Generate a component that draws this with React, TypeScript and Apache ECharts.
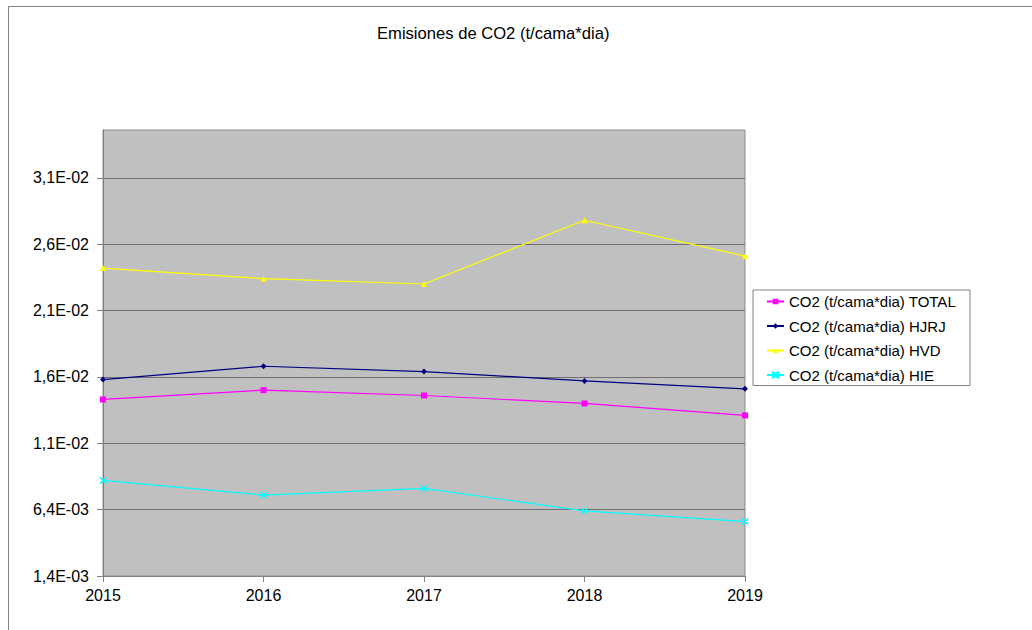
import React, { useEffect, useRef } from "react";
import * as echarts from "echarts";

const years = ["2015", "2016", "2017", "2018", "2019"];
const total = [0.0147, 0.0154, 0.015, 0.0144, 0.0135];
const hjrj = [0.0162, 0.0172, 0.0168, 0.0161, 0.0155];
const hvd = [0.0246, 0.0238, 0.0234, 0.0282, 0.0255];
const hie = [0.0086, 0.0075, 0.008, 0.0063, 0.0055];
const yTicks = [0.0014, 0.0064, 0.0114, 0.0164, 0.0214, 0.0264, 0.0314];
const seriesNames = [
  "CO2 (t/cama*dia) TOTAL",
  "CO2 (t/cama*dia) HJRJ",
  "CO2 (t/cama*dia) HVD",
  "CO2 (t/cama*dia) HIE",
];

const FONT = "'Liberation Sans', Arial, sans-serif";
const X_SYMBOL = "path://M0,0 L10,10 M10,0 L0,10 M0,0 L0.6,0 L10,9.4 L10,10 L9.4,10 L0,0.6 Z M10,0 L10,0.6 L0.6,10 L0,10 L0,9.4 L9.4,0 Z";

function fmt(v: number): string {
  const [m, e] = v.toExponential(1).split("e");
  const ex = parseInt(e, 10);
  return m.replace(".", ",") + "E" + (ex < 0 ? "-" : "+") + String(Math.abs(ex)).padStart(2, "0");
}

export default function App() {
  const ref = useRef<HTMLDivElement>(null);
  useEffect(() => {
    if (!ref.current) return;
    const chart = echarts.init(ref.current, null, { renderer: "svg" });
    const mk = (name: string, data: number[], color: string, symbol: string, size: number) => ({
      name,
      type: "line",
      data,
      color,
      symbol,
      symbolSize: size,
      showSymbol: true,
      lineStyle: { width: 1.2, color },
      itemStyle: { color, borderColor: color, borderWidth: symbol === X_SYMBOL ? 1 : 0 },
    });
    chart.setOption({
      animation: false,
      backgroundColor: "#ffffff",
      textStyle: { fontFamily: FONT },
      title: {
        text: "Emisiones de CO2 (t/cama*dia)",
        left: 377,
        top: 25,
        padding: 0,
        textStyle: { fontFamily: FONT, fontSize: 16.6, fontWeight: "normal", color: "#000" },
      },
      graphic: [
        {
          type: "rect",
          shape: { x: 8.5, y: 6.5, width: 1100, height: 700 },
          style: { fill: "none", stroke: "#808080", lineWidth: 1 },
          silent: true,
          z: -10,
        },
      ],
      legend: {
        orient: "vertical",
        left: 753,
        top: 290,
        padding: [4, 14, 3, 13],
        itemWidth: 17,
        itemHeight: 7,
        itemGap: 9.5,
        borderColor: "#808080",
        borderWidth: 1,
        backgroundColor: "#ffffff",
        textStyle: { fontFamily: FONT, fontSize: 15, color: "#000" },
        data: seriesNames,
      },
      grid: {
        left: 103,
        top: 130,
        right: 287,
        bottom: 54,
        show: true,
        backgroundColor: "#c0c0c0",
        borderColor: "#8c8c8c",
        borderWidth: 1,
        containLabel: false,
      },
      xAxis: {
        type: "category",
        data: years,
        boundaryGap: false,
        axisLine: { lineStyle: { color: "#808080", width: 1 } },
        axisTick: { show: true, length: 6, inside: false, lineStyle: { color: "#808080" } },
        axisLabel: { fontFamily: FONT, fontSize: 16, color: "#000", margin: 11 },
        splitLine: { show: false },
      },
      yAxis: {
        type: "value",
        min: 0.0014,
        max: 0.035,
        axisLine: { show: true, lineStyle: { color: "#808080", width: 1 } },
        axisTick: { show: true, length: 6, inside: false, customValues: yTicks, lineStyle: { color: "#808080" } },
        axisLabel: { fontFamily: FONT, fontSize: 16, color: "#000", margin: 14, customValues: yTicks, formatter: (v: number) => fmt(v) },
        splitLine: { show: true, lineStyle: { color: "#707070", width: 1 } },
      },
      series: [
        mk(seriesNames[0], total, "#ff00ff", "rect", 6),
        mk(seriesNames[1], hjrj, "#000080", "diamond", 6),
        mk(seriesNames[2], hvd, "#ffff00", "triangle", 6),
        mk(seriesNames[3], hie, "#00ffff", X_SYMBOL, 6),
      ],
    });
    return () => chart.dispose();
  }, []);
  return (
    <div
      ref={ref}
      style={{ position: "fixed", left: 0, top: 0, width: 1032, height: 630 }}
    />
  );
}
